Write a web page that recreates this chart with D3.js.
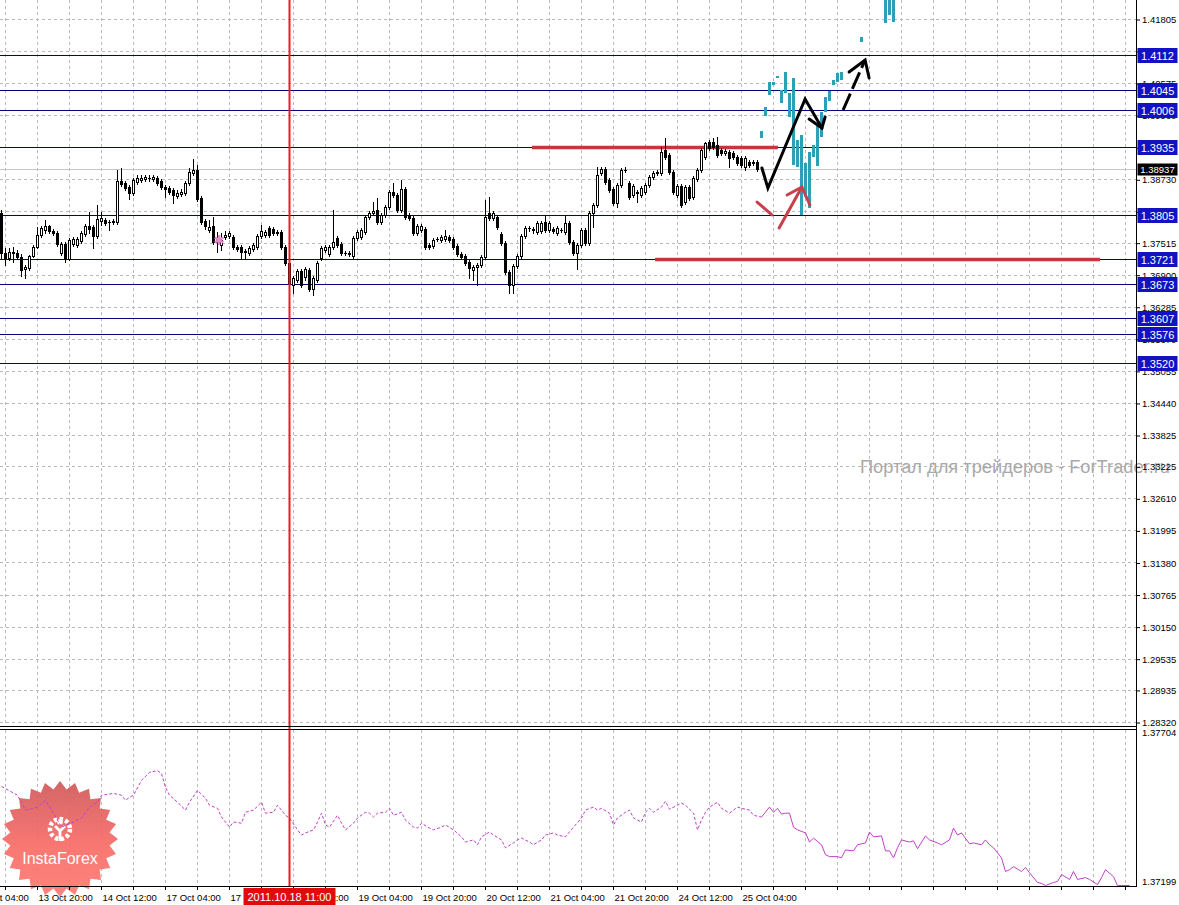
<!DOCTYPE html>
<html><head><meta charset="utf-8">
<script src="https://cdn.jsdelivr.net/npm/d3@7"></script>
<style>html,body{margin:0;padding:0;background:#fff;overflow:hidden}svg{display:block}</style>
</head><body><svg id="c" width="1179" height="905"></svg>
<script>
// ---------------- DATA ----------------
const openP = [1.38093,1.37326,1.37230,1.37345,1.37326,1.37249,1.37019,1.37038,1.37269,1.37441,1.37671,1.37767,1.37844,1.37748,1.37710,1.37326,1.37499,1.37211,1.37499,1.37480,1.37556,1.37691,1.37844,1.37825,1.37652,1.37940,1.37959,1.37921,1.37921,1.37921,1.38708,1.38670,1.38592,1.38477,1.38689,1.38727,1.38746,1.38766,1.38746,1.38766,1.38708,1.38592,1.38573,1.38535,1.38420,1.38458,1.38477,1.38670,1.38861,1.38918,1.38381,1.37940,1.37767,1.37844,1.37537,1.37480,1.37633,1.37652,1.37633,1.37441,1.37441,1.37345,1.37326,1.37403,1.37441,1.37652,1.37671,1.37805,1.37786,1.37729,1.37729,1.37441,1.37134,1.36712,1.36808,1.36981,1.36866,1.37000,1.36635,1.36808,1.37230,1.37384,1.37307,1.37441,1.37614,1.37499,1.37326,1.37326,1.37269,1.37614,1.37633,1.37729,1.38017,1.38093,1.38151,1.37921,1.38055,1.38208,1.38496,1.38439,1.38151,1.38554,1.38055,1.37997,1.37710,1.37767,1.37786,1.37480,1.37460,1.37595,1.37575,1.37595,1.37633,1.37595,1.37460,1.37307,1.37269,1.37153,1.37000,1.37057,1.37096,1.37249,1.38093,1.37997,1.38017,1.37691,1.37518,1.36962,1.36712,1.37077,1.37269,1.37652,1.37805,1.37786,1.37729,1.37748,1.37921,1.37767,1.37786,1.37710,1.37767,1.37729,1.37902,1.37537,1.37326,1.37480,1.37767,1.37518,1.38093,1.38247,1.38861,1.38937,1.38727,1.38554,1.38285,1.38631,1.38918,1.38670,1.38439,1.38496,1.38439,1.38496,1.38631,1.38784,1.38861,1.38861,1.39302,1.39206,1.38880,1.38439,1.38611,1.38304,1.38592,1.38400,1.38746,1.38918,1.39167,1.39455,1.39455,1.39398,1.39302,1.39244,1.39263,1.39244,1.39167,1.39148,1.38976,1.39072,1.39052,1.39072];
const highP = [1.38151,1.37422,1.37422,1.37441,1.37384,1.37307,1.37096,1.37288,1.37480,1.37825,1.37844,1.37959,1.37863,1.37786,1.37748,1.37537,1.37537,1.37614,1.37633,1.37633,1.37748,1.37882,1.38113,1.37863,1.38247,1.38113,1.37997,1.37959,1.37978,1.38918,1.38957,1.38708,1.38631,1.38766,1.38822,1.38822,1.38822,1.38822,1.38822,1.38803,1.38746,1.38631,1.38611,1.38573,1.38535,1.38554,1.38708,1.38957,1.39129,1.39014,1.38420,1.37978,1.37959,1.38017,1.37729,1.37710,1.37748,1.37748,1.37671,1.37480,1.37480,1.37403,1.37460,1.37518,1.37691,1.37863,1.37767,1.37844,1.37825,1.37767,1.37767,1.37480,1.37173,1.36885,1.37019,1.37019,1.37057,1.37038,1.36885,1.37173,1.37460,1.37480,1.37480,1.38151,1.37652,1.37537,1.37364,1.37364,1.37652,1.37767,1.37805,1.38055,1.38132,1.38304,1.38381,1.38093,1.38247,1.38535,1.38670,1.38477,1.38727,1.38592,1.38093,1.38036,1.37882,1.37882,1.37825,1.37518,1.37614,1.37633,1.37671,1.37767,1.37671,1.37633,1.37499,1.37345,1.37307,1.37192,1.37096,1.37134,1.37288,1.38343,1.38400,1.38132,1.38055,1.37729,1.37556,1.37000,1.37115,1.37307,1.37691,1.37844,1.37844,1.37825,1.37940,1.37940,1.38055,1.37940,1.37825,1.37844,1.37805,1.38036,1.37940,1.37575,1.37518,1.37805,1.37805,1.38132,1.38285,1.38976,1.38976,1.38976,1.38766,1.38592,1.38670,1.38957,1.38976,1.38708,1.38651,1.38535,1.38611,1.38670,1.38822,1.38899,1.38918,1.39359,1.39532,1.39244,1.38918,1.38651,1.38651,1.38631,1.38631,1.38803,1.38957,1.39340,1.39455,1.39494,1.39532,1.39551,1.39340,1.39321,1.39302,1.39283,1.39206,1.39187,1.39187,1.39110,1.39110,1.39110];
const lowP = [1.37230,1.37096,1.37192,1.37153,1.37211,1.36885,1.36846,1.37000,1.37249,1.37422,1.37633,1.37710,1.37710,1.37671,1.37460,1.37288,1.37153,1.37192,1.37460,1.37441,1.37518,1.37652,1.37710,1.37422,1.37614,1.37863,1.37863,1.37767,1.37882,1.37882,1.38611,1.38535,1.38362,1.38439,1.38651,1.38689,1.38708,1.38708,1.38708,1.38631,1.38554,1.38400,1.38458,1.38285,1.38381,1.38420,1.38439,1.38631,1.38822,1.38324,1.37882,1.37786,1.37729,1.37499,1.37345,1.37384,1.37595,1.37614,1.37403,1.37364,1.37230,1.37211,1.37288,1.37364,1.37403,1.37614,1.37633,1.37633,1.37671,1.37671,1.37403,1.37096,1.36712,1.36559,1.36770,1.36674,1.36808,1.36597,1.36520,1.36770,1.37192,1.37345,1.37269,1.37403,1.37441,1.37288,1.37288,1.37269,1.37230,1.37575,1.37595,1.37691,1.37978,1.38055,1.37882,1.37882,1.38017,1.38170,1.38400,1.38113,1.38113,1.37978,1.37959,1.37671,1.37671,1.37729,1.37403,1.37403,1.37422,1.37556,1.37537,1.37556,1.37537,1.37403,1.37269,1.37211,1.37096,1.36846,1.36808,1.36712,1.37057,1.37211,1.37959,1.37959,1.37786,1.37480,1.36923,1.36559,1.36559,1.37038,1.37230,1.37614,1.37748,1.37710,1.37691,1.37710,1.37729,1.37729,1.37710,1.37671,1.37729,1.37691,1.37499,1.37288,1.37019,1.37441,1.37480,1.37480,1.37825,1.38208,1.38822,1.38651,1.38496,1.38247,1.38208,1.38592,1.38880,1.38362,1.38400,1.38304,1.38400,1.38458,1.38592,1.38746,1.38822,1.38822,1.39129,1.38841,1.38458,1.38400,1.38208,1.38266,1.38343,1.38362,1.38708,1.38880,1.39129,1.39302,1.39321,1.39167,1.39206,1.39206,1.38976,1.39129,1.39014,1.38976,1.38918,1.38976,1.39014,1.38899];
const closeP = [1.37326,1.37230,1.37345,1.37326,1.37249,1.37000,1.37057,1.37269,1.37441,1.37671,1.37805,1.37844,1.37748,1.37710,1.37499,1.37499,1.37211,1.37575,1.37595,1.37595,1.37710,1.37844,1.37786,1.37652,1.37978,1.37997,1.37902,1.37915,1.37940,1.38708,1.38651,1.38573,1.38477,1.38727,1.38766,1.38766,1.38784,1.38760,1.38784,1.38670,1.38592,1.38554,1.38496,1.38439,1.38477,1.38496,1.38670,1.38880,1.38918,1.38362,1.37921,1.37844,1.37825,1.37537,1.37614,1.37575,1.37671,1.37710,1.37441,1.37403,1.37345,1.37364,1.37422,1.37480,1.37652,1.37748,1.37729,1.37671,1.37710,1.37710,1.37441,1.37134,1.36751,1.36846,1.36981,1.36712,1.37019,1.36635,1.36846,1.37134,1.37422,1.37441,1.37441,1.37537,1.37480,1.37326,1.37320,1.37330,1.37614,1.37729,1.37767,1.38017,1.38093,1.38132,1.37921,1.38055,1.38208,1.38496,1.38439,1.38151,1.38554,1.38017,1.37997,1.37710,1.37844,1.37844,1.37441,1.37441,1.37575,1.37590,1.37633,1.37652,1.37575,1.37441,1.37307,1.37249,1.37134,1.37038,1.37057,1.37096,1.37249,1.38017,1.37997,1.38093,1.37825,1.37518,1.36962,1.36712,1.37077,1.37269,1.37652,1.37805,1.37800,1.37767,1.37902,1.37902,1.37767,1.37902,1.37748,1.37805,1.37760,1.37902,1.37537,1.37326,1.37480,1.37767,1.37518,1.38093,1.38247,1.38822,1.38937,1.38689,1.38535,1.38285,1.38631,1.38918,1.38910,1.38400,1.38611,1.38477,1.38573,1.38631,1.38784,1.38861,1.38880,1.39263,1.39167,1.38880,1.38496,1.38611,1.38247,1.38592,1.38381,1.38766,1.38918,1.39302,1.39436,1.39340,1.39359,1.39206,1.39244,1.39283,1.39148,1.39167,1.39052,1.39014,1.39148,1.39014,1.39072,1.38937];

// projected (cyan) bars
const projIdx  = [190,191,192,193,194,195,196,197,198,199,200,201,202,203,204,205,206,207,208,209,210,215,221,222,223];
const projHigh = [1.39666,1.40127,1.40606,1.40606,1.40721,1.40453,1.40798,1.40395,1.40683,1.39494,1.39589,1.39052,1.39263,1.39398,1.39781,1.40031,1.40318,1.40433,1.40644,1.40779,1.40798,1.41469,1.42275,1.42275,1.42275];
const projLow  = [1.39532,1.39954,1.40357,1.40549,1.40683,1.40203,1.40395,1.39935,1.39014,1.38976,1.38055,1.38400,1.38189,1.39167,1.38995,1.39551,1.40031,1.40242,1.40549,1.40606,1.40644,1.41373,1.41738,1.41891,1.41757];

// indicator (bottom window)
const indIdx = [0,4,6,9,11,13,15,18,20,22,24,25,28,30,31,32,33,35,37,39,40,41,42,44,46,47,49,51,52,54,55,57,58,60,61,63,65,66,68,69,71,72,74,75,76,78,79,80,81,82,84,85,86,88,89,91,92,93,94,96,97,98,100,101,103,104,105,107,108,110,111,113,115,116,118,119,120,122,123,125,126,128,129,130,132,133,135,136,138,139,141,142,143,145,146,148,149,150,152,153,154,156,157,158,159,160,161,162,163,165,166,167,169,170,171,173,174,175,176,177,179,180,182,183,184,185,187,188,190,192,193,194,195,196,197,198,199,201,202,203,205,206,207,209,210,211,213,214,216,217,218,220,221,222,223,224,225,227,228,229,231,232,234,235,237,238,239,240,242,243,245,246,247,248,250,251,252,253,255,256,257,259,260,261,263,264,265,267,268,269,271,272,274,275,276,278,279,280,282];
const indVal = [1.37525,1.37496,1.37447,1.37457,1.37479,1.37437,1.37391,1.37408,1.37421,1.37457,1.37473,1.37496,1.37502,1.37496,1.37479,1.37489,1.37496,1.37545,1.37571,1.37577,1.37567,1.37522,1.37496,1.37473,1.37447,1.37473,1.37512,1.37486,1.37463,1.37453,1.37424,1.37391,1.37408,1.37404,1.37440,1.37447,1.37473,1.37437,1.37440,1.37463,1.37430,1.37421,1.37382,1.37365,1.37372,1.37382,1.37408,1.37437,1.37398,1.37391,1.37430,1.37404,1.37382,1.37404,1.37421,1.37440,1.37437,1.37424,1.37437,1.37440,1.37453,1.37430,1.37440,1.37414,1.37391,1.37388,1.37404,1.37388,1.37382,1.37391,1.37398,1.37382,1.37359,1.37342,1.37349,1.37333,1.37359,1.37375,1.37365,1.37349,1.37323,1.37339,1.37349,1.37355,1.37342,1.37333,1.37349,1.37365,1.37372,1.37365,1.37359,1.37375,1.37391,1.37421,1.37447,1.37457,1.37447,1.37453,1.37437,1.37398,1.37421,1.37440,1.37447,1.37421,1.37414,1.37408,1.37440,1.37453,1.37440,1.37457,1.37476,1.37450,1.37463,1.37470,1.37463,1.37437,1.37382,1.37414,1.37440,1.37457,1.37473,1.37453,1.37437,1.37447,1.37457,1.37453,1.37447,1.37430,1.37424,1.37457,1.37440,1.37453,1.37434,1.37437,1.37437,1.37391,1.37382,1.37372,1.37342,1.37355,1.37333,1.37300,1.37294,1.37294,1.37290,1.37316,1.37313,1.37333,1.37339,1.37375,1.37359,1.37362,1.37313,1.37313,1.37290,1.37323,1.37349,1.37342,1.37346,1.37320,1.37362,1.37349,1.37339,1.37333,1.37349,1.37388,1.37365,1.37372,1.37336,1.37339,1.37333,1.37349,1.37333,1.37323,1.37290,1.37245,1.37251,1.37261,1.37245,1.37258,1.37241,1.37209,1.37206,1.37199,1.37209,1.37212,1.37235,1.37219,1.37245,1.37219,1.37225,1.37219,1.37202,1.37225,1.37251,1.37228,1.37199,1.37199,1.37199];
const indSolidFrom = 190;
const indTicks = [1.37704, 1.37199];

// axes
const priceTicks = [1.41805,1.41190,1.40575,1.39960,1.39345,1.38730,1.38115,1.37515,1.36900,1.36285,1.35670,1.35055,1.34440,1.33825,1.33225,1.32610,1.31995,1.31380,1.30765,1.30150,1.29535,1.28935,1.28320];
const timeIdx = [-7,9,25,41,57,73,89,105,121,137,153,169,185];
const timeLabels = ["13 Oct 04:00","13 Oct 20:00","14 Oct 12:00","17 Oct 04:00","17 Oct 20:00","18 Oct 12:00","19 Oct 04:00","19 Oct 20:00","20 Oct 12:00","21 Oct 04:00","21 Oct 20:00","24 Oct 12:00","25 Oct 04:00"];
const cursorIdx = 72;
const cursorLabel = "2011.10.18 11:00";

// levels
const blueLevels = [1.4112,1.4045,1.4006,1.3935,1.3805,1.3721,1.3673,1.3607,1.3576,1.3520];
const bidPrice = 1.38937;
const redLevels = [[132.6,194.1,1.3935],[163.4,274.6,1.3720]];

// hand-drawn annotations [barIndex, price]
const blackZig  = [[190.1,1.38957],[191.6,1.38573],[200.9,1.40280],[205.1,1.39724]];
const blackHead = [[201.9,1.39896],[205.1,1.39724],[205.9,1.39935]];
const dashArrow = [[210.4,1.40069],[215.9,1.41028]];
const dashHead  = [[211.9,1.40798],[215.9,1.41028],[216.9,1.40683]];
const redTick   = [[188.9,1.38304],[192.6,1.38055]];
const redArrow  = [[194.4,1.37805],[200.1,1.38592]];
const redHead   = [[196.4,1.38439],[200.1,1.38592],[202.1,1.38247]];
const starMark  = [54.4, 1.37575];

const watermark = "Портал для трейдеров - ForTrader.ru";
const logoText = "InstaForex";

// ---------------- LAYOUT ----------------
const PR = 1136, MB = 726, IT = 730, IB = 886;
const FONT = "'Liberation Sans', Arial, sans-serif";
const svg = d3.select("#c");
const x = d3.scaleLinear().domain([0,1]).range([1.5,5.5]);
const y = d3.scaleLinear().domain([1.41805,1.28320]).range([19.5,722.5]);
const yi = d3.scaleLinear().domain([1.37199,1.37704]).range([885.5,732]);
const px = v => Math.round(v - 0.5) + 0.5;

const defs = svg.append("defs");
defs.append("clipPath").attr("id","cm").append("rect").attr("x",0).attr("y",0).attr("width",PR).attr("height",MB);
defs.append("clipPath").attr("id","ci").append("rect").attr("x",0).attr("y",IT).attr("width",PR).attr("height",IB-IT);
const lg = defs.append("linearGradient").attr("id","lg").attr("x1",0).attr("y1",0).attr("x2",0).attr("y2",1);
lg.append("stop").attr("offset","0%").attr("stop-color","#cf5a5a");
lg.append("stop").attr("offset","55%").attr("stop-color","#f86c68");
lg.append("stop").attr("offset","100%").attr("stop-color","#ff7a72");

// grid
const grid = svg.append("g").attr("stroke","#b9b9b9").attr("stroke-dasharray","3,3").attr("shape-rendering","crispEdges");
priceTicks.forEach(t => grid.append("line").attr("x1",0).attr("x2",PR).attr("y1",px(y(t))).attr("y2",px(y(t))));
const gridIdx = d3.range(1, 284, 8);
gridIdx.forEach(i => {
  grid.append("line").attr("x1",x(i)).attr("x2",x(i)).attr("y1",0).attr("y2",MB);
  grid.append("line").attr("x1",x(i)).attr("x2",x(i)).attr("y1",IT).attr("y2",IB);
});

// watermark
svg.append("text").attr("x",860).attr("y",473).attr("font-family",FONT).attr("font-size",18)
  .attr("fill","#a9a9a9").attr("textLength",310).attr("lengthAdjust","spacingAndGlyphs").text(watermark);

const main = svg.append("g").attr("clip-path","url(#cm)");

// blue levels
main.selectAll("line.lv").data(blueLevels).join("line").attr("class","lv")
  .attr("x1",0).attr("x2",PR).attr("y1",d=>px(y(d))).attr("y2",d=>px(y(d)))
  .attr("stroke","#000080").attr("stroke-width",1).attr("shape-rendering","crispEdges");
// bid line
main.append("line").attr("x1",0).attr("x2",PR).attr("y1",px(y(bidPrice))).attr("y2",px(y(bidPrice)))
  .attr("stroke","#c4c4c4").attr("shape-rendering","crispEdges");
// red levels
main.selectAll("line.rl").data(redLevels).join("line").attr("class","rl")
  .attr("x1",d=>x(d[0])).attr("x2",d=>x(d[1])).attr("y1",d=>y(d[2])).attr("y2",d=>y(d[2]))
  .attr("stroke","#c8363c").attr("stroke-width",3.5);

// candles
const cg = main.append("g").attr("shape-rendering","crispEdges");
openP.forEach((o,i) => {
  const c = closeP[i], cx = x(i);
  cg.append("line").attr("x1",cx).attr("x2",cx).attr("y1",Math.round(y(highP[i]))).attr("y2",Math.round(y(lowP[i]))+1)
    .attr("stroke","#000");
  const top = Math.round(y(Math.max(o,c))), bot = Math.round(y(Math.min(o,c)));
  if (c >= o) {
    cg.append("rect").attr("x",cx-1).attr("y",top+0.5).attr("width",2).attr("height",Math.max(bot-top,1))
      .attr("fill","#fff").attr("stroke","#000");
  } else {
    cg.append("rect").attr("x",cx-1.5).attr("y",top).attr("width",3).attr("height",Math.max(bot-top+1,1)).attr("fill","#000");
  }
});

// cyan projected bars
main.append("g").selectAll("rect").data(projIdx).join("rect")
  .attr("x",(d)=>x(d)-1.5).attr("width",3)
  .attr("y",(d,k)=>Math.round(y(projHigh[k])))
  .attr("height",(d,k)=>Math.max(Math.round(y(projLow[k]))-Math.round(y(projHigh[k])),2))
  .attr("fill","#2f9fb8").attr("shape-rendering","crispEdges");

// annotations
const ln = d3.line().x(d=>x(d[0])).y(d=>y(d[1]));
const ann = main.append("g").attr("fill","none").attr("stroke-linecap","round").attr("stroke-linejoin","miter");
ann.append("path").attr("d",ln(blackZig)).attr("stroke","#000").attr("stroke-width",3);
ann.append("path").attr("d",ln(blackHead)).attr("stroke","#000").attr("stroke-width",3);
ann.append("path").attr("d",ln(dashArrow)).attr("stroke","#000").attr("stroke-width",3).attr("stroke-dasharray","18,5").attr("stroke-linecap","butt");
ann.append("path").attr("d",ln(dashHead)).attr("stroke","#000").attr("stroke-width",3);
ann.append("path").attr("d",ln(redTick)).attr("stroke","#c8404a").attr("stroke-width",3);
ann.append("path").attr("d",ln(redArrow)).attr("stroke","#c8404a").attr("stroke-width",3);
ann.append("path").attr("d",ln(redHead)).attr("stroke","#c8404a").attr("stroke-width",3);
main.append("path").attr("d",d3.symbol(d3.symbolAsterisk,70)())
  .attr("transform",`translate(${x(starMark[0])},${y(starMark[1])})`)
  .attr("stroke","#e58ccb").attr("stroke-width",2.5).attr("fill","none");

// logo
const lgG = svg.append("g").attr("opacity",0.92);
const N = 24, R1 = 58, R2 = 50, LX = 60, LY = 839;
const starPts = d3.range(2*N).map(k => {const a = k*Math.PI/N - Math.PI/2, r = k%2 ? R2 : R1; return [LX + r*Math.cos(a), LY + r*Math.sin(a)];});
lgG.append("path").attr("d", d3.line()(starPts) + "Z").attr("fill","url(#lg)");
lgG.append("circle").attr("cx",LX).attr("cy",829).attr("r",10).attr("fill","none").attr("stroke","#fff").attr("stroke-width",4.5).attr("stroke-dasharray","3.4,2.4");
lgG.append("circle").attr("cx",LX).attr("cy",822).attr("r",2.8).attr("fill","#fff");
lgG.append("path").attr("d",`M${LX-5},${826}L${LX},${831}L${LX+5},${826}M${LX},${831}L${LX},${841}`).attr("stroke","#fff").attr("stroke-width",2.8).attr("fill","none");
lgG.append("text").attr("x",LX).attr("y",864).attr("text-anchor","middle").attr("font-family",FONT).attr("font-size",16).attr("fill","#fff").text(logoText);

// indicator line
const ig = svg.append("g").attr("clip-path","url(#ci)");
const indPts = indIdx.map((d,k)=>[d,indVal[k]]);
const il = d3.line().x(d=>x(d[0])).y(d=>yi(d[1]));
ig.append("path").attr("d",il(indPts.filter(d=>d[0]<=indSolidFrom))).attr("fill","none").attr("stroke","#c040c8").attr("stroke-width",1).attr("stroke-dasharray","3,2");
ig.append("path").attr("d",il(indPts.filter(d=>d[0]>=indSolidFrom))).attr("fill","none").attr("stroke","#c040c8").attr("stroke-width",1);

// cursor line
svg.append("rect").attr("x",x(cursorIdx)-1).attr("y",0).attr("width",2).attr("height",IB).attr("fill","#ee1c1c");

// frames
const fr = svg.append("g").attr("stroke","#000").attr("shape-rendering","crispEdges");
fr.append("line").attr("x1",0).attr("x2",PR).attr("y1",MB+0.5).attr("y2",MB+0.5);
fr.append("line").attr("x1",0).attr("x2",PR).attr("y1",IT-0.5).attr("y2",IT-0.5);
fr.append("line").attr("x1",0).attr("x2",PR+1).attr("y1",IB+0.5).attr("y2",IB+0.5);
fr.append("line").attr("x1",PR+0.5).attr("x2",PR+0.5).attr("y1",0).attr("y2",IB+1);

// right price axis
const ya = svg.append("g").attr("transform",`translate(${PR+1},0)`)
  .call(d3.axisRight(y).tickValues(priceTicks).tickFormat(d3.format(".5f")).tickSize(3).tickPadding(2));
ya.select(".domain").remove();
ya.selectAll("text").attr("font-family",FONT).attr("font-size",9.5).attr("fill","#000");
ya.selectAll("line").attr("stroke","#000");
const yia = svg.append("g").attr("transform",`translate(${PR+1},0)`);
yia.selectAll("text").data(indTicks).join("text").attr("x",5).attr("y",(d,k)=>k===0?yi(d)+4:yi(d)-1)
  .attr("font-family",FONT).attr("font-size",9.5).attr("fill","#000").text(d=>d3.format(".5f")(d));

// time axis
const xa = svg.append("g");
xa.selectAll("line").data(gridIdx).join("line").attr("x1",d=>x(d)).attr("x2",d=>x(d)).attr("y1",IB).attr("y2",IB+4).attr("stroke","#000");
xa.selectAll("text").data(timeIdx).join("text").attr("x",d=>x(d)+1).attr("y",901)
  .attr("font-family",FONT).attr("font-size",9.5).attr("fill","#000").text((d,k)=>timeLabels[k]);

// level labels
const lb = svg.append("g");
blueLevels.forEach(v => {
  const cy = px(y(v));
  lb.append("rect").attr("x",PR+1.5).attr("y",cy-7.5).attr("width",40).attr("height",15).attr("fill","#1212c4");
  lb.append("text").attr("x",PR+21.5).attr("y",cy+4.2).attr("text-anchor","middle").attr("font-family",FONT).attr("font-size",11).attr("fill","#fff").text(d3.format(".4f")(v));
});
{
  const cy = px(y(bidPrice));
  lb.append("rect").attr("x",PR+1.5).attr("y",cy-6).attr("width",40).attr("height",12).attr("fill","#000");
  lb.append("text").attr("x",PR+21.5).attr("y",cy+3.5).attr("text-anchor","middle").attr("font-family",FONT).attr("font-size",9.5).attr("fill","#fff").text(d3.format(".5f")(bidPrice));
}
// cursor label
svg.append("rect").attr("x",x(cursorIdx)-46).attr("y",888).attr("width",92).attr("height",17).attr("fill","#e00c0c");
svg.append("text").attr("x",x(cursorIdx)).attr("y",901).attr("text-anchor","middle").attr("font-family",FONT).attr("font-size",11).attr("fill","#fff").text(cursorLabel);
</script></body></html>
